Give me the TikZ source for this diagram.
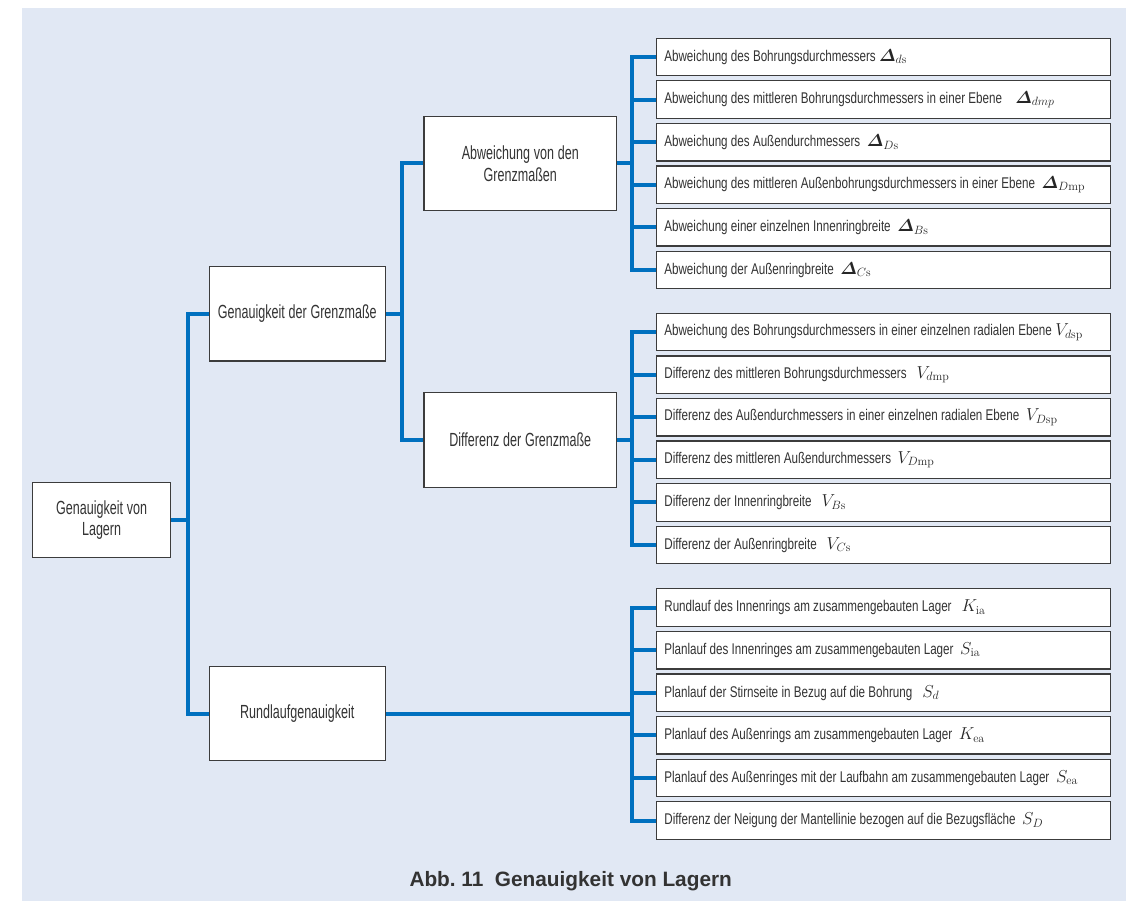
\documentclass[tikz,border=0pt]{standalone}
\usepackage{amsmath}
\usepackage{fontspec}
\newfontfamily\leaffont[FakeStretch=0.75]{Liberation Sans}
\newfontfamily\midfont[FakeStretch=0.66]{Liberation Sans}
\newfontfamily\capfont{Liberation Sans}
\definecolor{bg}{HTML}{E1E8F4}
\definecolor{lineblue}{HTML}{0070BF}
\definecolor{txt}{HTML}{333333}
\definecolor{frame}{HTML}{3C3C3C}
\newcommand{\Dl}{\boldsymbol{\varDelta}}
\newcommand{\mth}[1]{{\fontsize{17.28}{17}\selectfont\color{black!85}$#1$}}
\newcommand{\leafsp}{\spaceskip 3.3pt plus 1pt minus 0.5pt\relax}
\newcommand{\midsp}{\spaceskip 3.8pt plus 1pt minus 0.5pt\relax}
\tikzset{
  conn/.style={draw=lineblue, line width=4pt, line join=miter},
  boxbase/.style={draw=frame, line width=1.3pt, fill=white, text=txt, inner sep=0pt},
  midbox/.style={boxbase, minimum width=176pt, minimum height=94.5pt, align=center,
    font=\midfont\fontsize{19}{21.5}\selectfont, execute at begin node=\midsp},
  leafbox/.style={boxbase, anchor=west, minimum height=37.5pt, text width=438.3pt,
    inner xsep=8pt, align=left, font=\leaffont\fontsize{15.5}{17}\selectfont,
    execute at begin node=\leafsp},
}
\begin{document}
\begin{tikzpicture}[x=1pt,y=-1pt]
\useasboundingbox (0,0) rectangle (1126,901);
\fill[bg] (22,8) rectangle (1126,901);

% level 0 and 1
\node[midbox, minimum width=137.8pt, minimum height=74.8pt] (root) at (101.6,520) {Genauigkeit von\\Lagern};
\node[midbox] (gdg) at (297.3,313.8) {Genauigkeit der Grenzmaße};
\node[midbox] (rund) at (297.3,713.5) {Rundlaufgenauigkeit};
% level 2
\node[midbox, minimum width=192.5pt] (abw) at (520.3,163.5) {Abweichung von den\\Grenzmaßen};
\node[midbox, minimum width=192.5pt] (diff) at (520.3,440) {Differenz der Grenzmaße};

% leaves group 1
\node[leafbox] (a1) at (655.7,57) {Abweichung des Bohrungsdurchmessers \mth{\Dl_{d\mathrm{s}}}};
\node[leafbox] (a2) at (655.7,99.6) {Abweichung des mittleren Bohrungsdurchmessers in einer Ebene\ \ \ \ \mth{\Dl_{dmp}}};
\node[leafbox] (a3) at (655.7,142.2) {Abweichung des Außendurchmessers\ \ \mth{\Dl_{D\mathrm{s}}}};
\node[leafbox] (a4) at (655.7,184.8) {Abweichung des mittleren Außenbohrungsdurchmessers in einer Ebene\ \ \mth{\Dl_{D\mathrm{mp}}}};
\node[leafbox] (a5) at (655.7,227.4) {Abweichung einer einzelnen Innenringbreite\ \ \mth{\Dl_{B\mathrm{s}}}};
\node[leafbox] (a6) at (655.7,270) {Abweichung der Außenringbreite\ \ \mth{\Dl_{C\mathrm{s}}}};

% leaves group 2
\node[leafbox] (b1) at (655.7,332) {Abweichung des Bohrungsdurchmessers in einer einzelnen radialen Ebene \mth{V_{d\mathrm{sp}}}};
\node[leafbox] (b2) at (655.7,374.6) {Differenz des mittleren Bohrungsdurchmessers\ \ \ \mth{V_{d\mathrm{mp}}}};
\node[leafbox] (b3) at (655.7,417.2) {Differenz des Außendurchmessers in einer einzelnen radialen Ebene\ \ \mth{V_{D\mathrm{sp}}}};
\node[leafbox] (b4) at (655.7,459.8) {Differenz des mittleren Außendurchmessers\ \ \mth{V_{D\mathrm{mp}}}};
\node[leafbox] (b5) at (655.7,502.4) {Differenz der Innenringbreite\ \ \ \mth{V_{B\mathrm{s}}}};
\node[leafbox] (b6) at (655.7,545) {Differenz der Außenringbreite\ \ \ \mth{V_{C\mathrm{s}}}};

% leaves group 3
\node[leafbox] (c1) at (655.7,607.5) {Rundlauf des Innenrings am zusammengebauten Lager\ \ \ \mth{K_{\mathrm{ia}}}};
\node[leafbox] (c2) at (655.7,650.1) {Planlauf des Innenringes am zusammengebauten Lager\ \ \mth{S_{\mathrm{ia}}}};
\node[leafbox] (c3) at (655.7,692.7) {Planlauf der Stirnseite in Bezug auf die Bohrung\ \ \ \mth{S_{d}}};
\node[leafbox] (c4) at (655.7,735.3) {Planlauf des Außenrings am zusammengebauten Lager\ \ \mth{K_{\mathrm{ea}}}};
\node[leafbox] (c5) at (655.7,777.9) {Planlauf des Außenringes mit der Laufbahn am zusammengebauten Lager\ \ \mth{S_{\mathrm{ea}}}};
\node[leafbox] (c6) at (655.7,820.5) {Differenz der Neigung der Mantellinie bezogen auf die Bezugsfläche\ \ \mth{S_{D}}};

% junctions
\coordinate (j0) at (187.5,520);
\coordinate (j1) at (402,313.8);
\coordinate (ja) at (632,163.5);
\coordinate (jb) at (632,440);
\coordinate (jc) at (632,713.5);

% connectors
\draw[conn] (root.east) -- (j0);
\draw[conn] (gdg.west) -| (j0);
\draw[conn] (rund.west) -| (j0);
\draw[conn] (gdg.east) -- (j1);
\draw[conn] (abw.west) -| (j1);
\draw[conn] (diff.west) -| (j1);
\draw[conn] (abw.east) -- (ja);
\foreach \n in {a1,a2,a3,a4,a5,a6} \draw[conn] (\n.west) -| (ja);
\draw[conn] (diff.east) -- (jb);
\foreach \n in {b1,b2,b3,b4,b5,b6} \draw[conn] (\n.west) -| (jb);
\draw[conn] (rund.east) -- (jc);
\foreach \n in {c1,c2,c3,c4,c5,c6} \draw[conn] (\n.west) -| (jc);

% caption
\node[anchor=base west, inner sep=0pt, text=txt, font=\capfont\bfseries\fontsize{20.8}{24}\selectfont] (cap) at (409.3,886.5) {Abb.~11\hspace{0.55em}Genauigkeit von Lagern};
\end{tikzpicture}
\end{document}
